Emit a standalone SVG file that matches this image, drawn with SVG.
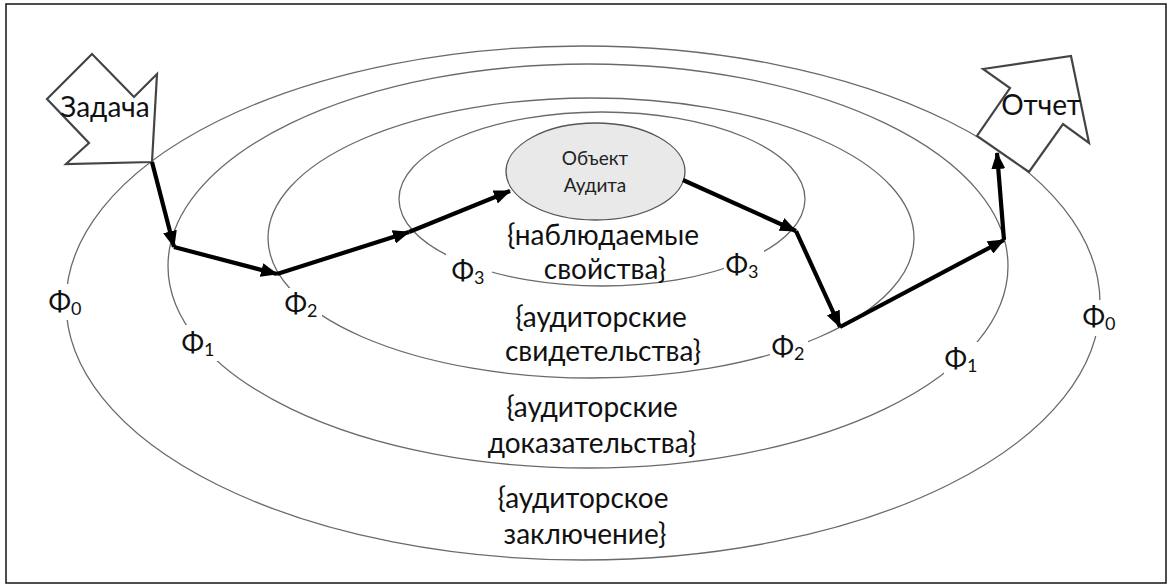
<svg xmlns="http://www.w3.org/2000/svg" width="1172" height="587" viewBox="0 0 1172 587">
<style>
  .ring{fill:none;stroke:#6a6a6a;stroke-width:1.3}
  .t{font-family:Lato,"Open Sans","Liberation Sans",sans-serif;font-size:28px;fill:#111;text-anchor:middle}
  .small{font-family:Lato,"Open Sans","Liberation Sans",sans-serif;font-size:19px;fill:#222;text-anchor:middle}
  .phi{font-family:Lato,"Open Sans","Liberation Sans",sans-serif;font-size:27px;fill:#111;text-anchor:middle}
  .sub{font-size:18px}
  .mask{fill:#fff}
  .blk{fill:#fff;stroke:#444;stroke-width:2.2;stroke-linejoin:miter}
  .arr{fill:none;stroke:#000;stroke-width:4.2;marker-end:url(#ah)}
</style>
<defs>
  <marker id="ah" markerUnits="userSpaceOnUse" markerWidth="18" markerHeight="14" refX="16" refY="7" orient="auto">
    <path d="M0,0 L17,7 L0,14 z" fill="#000"/>
  </marker>
</defs>
<rect x="0" y="0" width="1172" height="587" fill="#fff"/>
<rect x="6" y="4" width="1160" height="579" fill="none" stroke="#222" stroke-width="1.6"/>

<g id="rings">
  <ellipse id="ring-f0" class="ring" cx="583" cy="303" rx="517" ry="257"/>
  <ellipse id="ring-f1" class="ring" cx="588" cy="266" rx="420" ry="202"/>
  <ellipse id="ring-f2" class="ring" cx="591" cy="238" rx="323" ry="140"/>
  <ellipse id="ring-f3" class="ring" cx="602" cy="199" rx="203" ry="87"/>
</g>

<g id="phi-labels">
  <rect class="mask" x="50" y="284" width="36" height="36"/>
  <text class="phi" x="65" y="311">Φ<tspan class="sub" dy="4">0</tspan></text>
  <rect class="mask" x="1082" y="300" width="38" height="36"/>
  <text class="phi" x="1099" y="326">Φ<tspan class="sub" dy="4">0</tspan></text>
  <rect class="mask" x="182" y="325" width="36" height="36"/>
  <text class="phi" x="198" y="352">Φ<tspan class="sub" dy="4">1</tspan></text>
  <rect class="mask" x="944" y="342" width="38" height="36"/>
  <text class="phi" x="961" y="368">Φ<tspan class="sub" dy="4">1</tspan></text>
  <rect class="mask" x="284" y="288" width="38" height="34"/>
  <text class="phi" x="301" y="313">Φ<tspan class="sub" dy="4">2</tspan></text>
  <rect class="mask" x="770" y="330" width="38" height="36"/>
  <text class="phi" x="788" y="356">Φ<tspan class="sub" dy="4">2</tspan></text>
  <rect class="mask" x="446" y="254" width="46" height="34"/>
  <text class="phi" x="468" y="280">Φ<tspan class="sub" dy="4">3</tspan></text>
  <rect class="mask" x="724" y="250" width="40" height="32"/>
  <text class="phi" x="742" y="274">Φ<tspan class="sub" dy="4">3</tspan></text>
</g>

<g id="set-labels">
  <text class="t" x="603" y="245">{наблюдаемые</text>
  <text class="t" x="605" y="279">свойства}</text>
  <text class="t" x="601" y="327">{аудиторские</text>
  <text class="t" x="603" y="361">свидетельства}</text>
  <text class="t" x="592" y="417">{аудиторские</text>
  <text class="t" x="592" y="453">доказательства}</text>
  <text class="t" x="583" y="508">{аудиторское</text>
  <text class="t" x="585" y="544">заключение}</text>
</g>

<g id="object">
  <ellipse cx="595.5" cy="171.5" rx="89.5" ry="48.5" fill="#e9e9e9" stroke="#555" stroke-width="1.3"/>
  <text class="small" x="595" y="165">Объект</text>
  <text class="small" x="595" y="192">Аудита</text>
</g>

<g id="task">
  <polygon class="blk" points="92,54 47,99 89,143 66,164 152,162 157,74 134,97"/>
  <text class="t" x="105" y="117">Задача</text>
</g>

<g id="report">
  <polygon class="blk" points="983,69 1071,56 1089,143 1063,124 1029,172 977,136 1010,88"/>
  <text class="t" x="1041" y="115">Отчет</text>
</g>

<g id="connectors">
  <path class="arr" d="M152,162 L174,247"/>
  <path class="arr" d="M174,247 L277,274"/>
  <path class="arr" d="M277,274 L409,232"/>
  <path class="arr" d="M409,232 L510,191"/>
  <path class="arr" d="M683,180 L796,231"/>
  <path class="arr" d="M796,231 L840,327"/>
  <path class="arr" d="M840,327 L1004,240"/>
  <path class="arr" d="M1004,240 L997,153"/>
</g>
</svg>
